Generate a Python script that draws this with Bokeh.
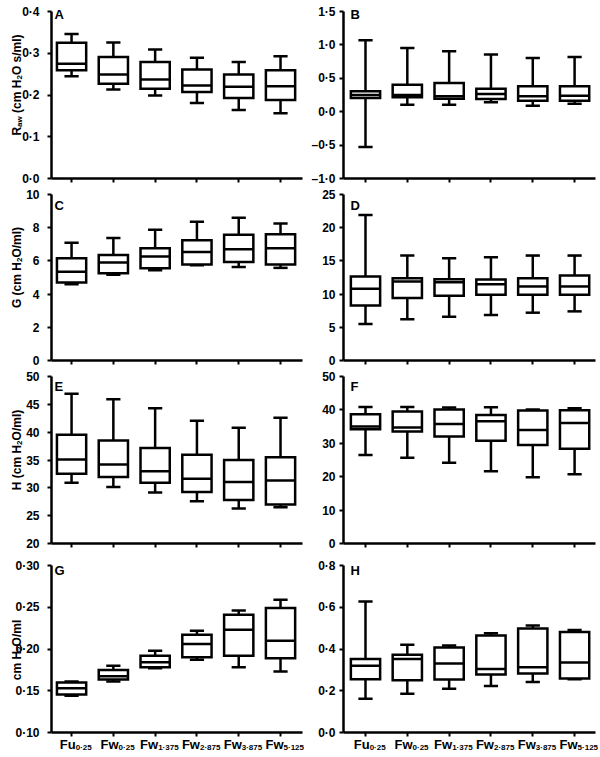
from bokeh.plotting import figure
from bokeh.models import Range1d, FixedTicker, Label
from bokeh.layouts import column, row
from bokeh.embed import file_html
from bokeh.resources import INLINE

# ---------------- data ----------------
groups = [1, 2, 3, 4, 5, 6]
x_main = ["Fu", "Fw", "Fw", "Fw", "Fw", "Fw"]
x_sub = ["0·25", "0·25", "1·375", "2·875", "3·875", "5·125"]

A_max = [0.346, 0.326, 0.309, 0.289, 0.279, 0.293]
A_q3 = [0.325, 0.291, 0.279, 0.261, 0.249, 0.259]
A_med = [0.275, 0.249, 0.237, 0.223, 0.220, 0.221]
A_q1 = [0.259, 0.227, 0.215, 0.207, 0.193, 0.188]
A_min = [0.245, 0.213, 0.199, 0.181, 0.164, 0.156]
A_ticks = [0.0, 0.1, 0.2, 0.3, 0.4]
A_labels = ["0·0", "0·1", "0·2", "0·3", "0·4"]

B_max = [1.07, 0.955, 0.905, 0.855, 0.805, 0.82]
B_q3 = [0.305, 0.405, 0.43, 0.345, 0.38, 0.38]
B_med = [0.25, 0.25, 0.23, 0.265, 0.23, 0.24]
B_q1 = [0.205, 0.215, 0.195, 0.19, 0.165, 0.165]
B_min = [-0.53, 0.105, 0.105, 0.14, 0.09, 0.12]
B_ticks = [-1.0, -0.5, 0.0, 0.5, 1.0, 1.5]
B_labels = ["–1·0", "–0·5", "0·0", "0·5", "1·0", "1·5"]

C_max = [7.1, 7.38, 7.88, 8.36, 8.6, 8.26]
C_q3 = [6.16, 6.36, 6.76, 7.24, 7.58, 7.6]
C_med = [5.34, 5.9, 6.26, 6.54, 6.7, 6.76]
C_q1 = [4.7, 5.26, 5.56, 5.78, 5.94, 5.78]
C_min = [4.6, 5.16, 5.44, 5.74, 5.64, 5.58]
C_ticks = [0, 2, 4, 6, 8, 10]
C_labels = ["0", "2", "4", "6", "8", "10"]

D_max = [21.9, 15.8, 15.4, 15.55, 15.8, 15.8]
D_q3 = [12.65, 12.4, 12.25, 12.2, 12.4, 12.8]
D_med = [10.8, 11.9, 11.8, 11.5, 11.15, 11.15]
D_q1 = [8.3, 9.4, 9.75, 9.9, 9.9, 9.9]
D_min = [5.5, 6.2, 6.6, 6.85, 7.2, 7.4]
D_ticks = [0, 5, 10, 15, 20, 25]
D_labels = ["0", "5", "10", "15", "20", "25"]

E_max = [46.9, 45.9, 44.3, 42.05, 40.8, 42.6]
E_q3 = [39.55, 38.5, 37.15, 35.95, 35.0, 35.5]
E_med = [35.1, 34.2, 33.0, 31.65, 31.05, 31.3]
E_q1 = [32.55, 31.95, 30.9, 29.25, 27.8, 27.0]
E_min = [30.9, 30.15, 29.15, 27.6, 26.3, 26.5]
E_ticks = [20, 25, 30, 35, 40, 45, 50]
E_labels = ["20", "25", "30", "35", "40", "45", "50"]

F_max = [40.9, 40.9, 40.7, 40.8, 40.1, 40.5]
F_q3 = [38.7, 39.5, 40.1, 38.5, 39.8, 39.9]
F_med = [35.0, 34.7, 35.8, 36.6, 34.0, 36.1]
F_q1 = [34.2, 33.5, 32.0, 30.8, 29.5, 28.4]
F_min = [26.5, 25.7, 24.2, 21.6, 19.8, 20.7]
F_ticks = [0, 10, 20, 30, 40, 50]
F_labels = ["0", "10", "20", "30", "40", "50"]

G_max = [0.161, 0.180, 0.198, 0.222, 0.246, 0.259]
G_q3 = [0.160, 0.175, 0.192, 0.217, 0.241, 0.249]
G_med = [0.153, 0.1675, 0.184, 0.206, 0.223, 0.210]
G_q1 = [0.1455, 0.1635, 0.178, 0.190, 0.192, 0.189]
G_min = [0.144, 0.161, 0.177, 0.187, 0.178, 0.173]
G_ticks = [0.10, 0.15, 0.20, 0.25, 0.30]
G_labels = ["0·10", "0·15", "0·20", "0·25", "0·30"]

H_max = [0.627, 0.42, 0.417, 0.475, 0.512, 0.491]
H_q3 = [0.352, 0.372, 0.407, 0.465, 0.498, 0.482]
H_med = [0.32, 0.352, 0.331, 0.304, 0.312, 0.335]
H_q1 = [0.255, 0.25, 0.254, 0.278, 0.283, 0.259]
H_min = [0.162, 0.186, 0.21, 0.223, 0.242, 0.255]
H_ticks = [0.0, 0.2, 0.4, 0.6, 0.8]
H_labels = ["0·0", "0·2", "0·4", "0·6", "0·8"]

# ---------------- styling / layout ----------------
FONT = "Liberation Sans"
LW = 2.5
BOX_HALF = 0.35
CAP_HALF = 0.17

# Arial/Liberation Sans Bold advance widths (1/1000 em)
WID = {' ': 278, '(': 333, ')': 333, '/': 278, '·': 278, 'R': 722, 'a': 556, 'w': 778,
       'c': 556, 'm': 889, 'H': 722, 'O': 778, 's': 556, 'l': 278, 'G': 778, 'F': 611,
       'u': 611}


def tw(s, size):
    return sum(WID.get(ch, 556) for ch in s) / 1000.0 * size


def add_text(p, x, y, text, size, dx, dy, angle=0.0, align="left"):
    p.add_layout(Label(x=x, y=y, x_units="data", y_units="data", text=text,
                       x_offset=dx, y_offset=dy, angle=angle, text_align=align,
                       text_baseline="alphabetic", text_font=FONT,
                       text_font_style="bold", text_font_size=f"{size}px",
                       text_color="black"))


# the page has no margin (Bokeh template): figures start at the window's corner
ROW_H = [186, 182, 185, 203]
TOP_B = [11, 8, 8, 12]
BOT_B = [8, 8, 10, 24]
LETTER_DY = [3, 11, 9.5, 5]


def panel(col, rix, letter, ticks, labels, yr, mx, q3, med, q1, mn, ylabel=None, ycenter_shift=0.0,
          bottom=False):
    if col == 0:
        W, bl, br, xr, standoff, ldx = 304, 51, 2, (0.52, 6.526), 8, 3
    else:
        W, bl, br, xr, standoff, ldx = 294, 39, 3, (0.474, 6.50), 4, 7
    H, bt, bb = ROW_H[rix], TOP_B[rix], BOT_B[rix]
    fw = W - bl - br
    fh = H - bt - bb
    sx = fw / (xr[1] - xr[0])
    sy = fh / (yr[1] - yr[0])
    X = Range1d(xr[0] - bl / sx, xr[1] + br / sx)
    Y = Range1d(yr[0] - bb / sy, yr[1] + bt / sy)
    p = figure(width=W, height=H, x_range=X, y_range=Y,
               output_backend="svg", toolbar_location=None,
               min_border_left=0, min_border_right=0,
               min_border_top=0, min_border_bottom=0)
    p.outline_line_color = None
    p.xgrid.visible = False
    p.ygrid.visible = False
    p.background_fill_color = "white"
    p.border_fill_color = "white"
    for ax in (p.xaxis[0], p.yaxis[0]):
        ax.axis_line_width = LW
        ax.axis_line_color = "black"
        ax.major_tick_line_width = 2
        ax.major_tick_line_color = "black"
        ax.major_tick_out = 4
        ax.major_tick_in = 0
        ax.minor_tick_out = 0
        ax.minor_tick_in = 0
    p.xaxis.fixed_location = yr[0]
    p.yaxis.fixed_location = xr[0]
    p.xaxis.bounds = xr
    p.yaxis.bounds = yr
    p.xaxis.ticker = FixedTicker(ticks=groups)
    p.xaxis.major_label_text_color = None
    p.xaxis.major_label_standoff = 0
    p.yaxis.ticker = FixedTicker(ticks=ticks)
    p.yaxis.major_label_overrides = {t: l for t, l in zip(ticks, labels)}
    p.yaxis.major_label_text_font = FONT
    p.yaxis.major_label_text_font_style = "bold"
    p.yaxis.major_label_text_font_size = "12px"
    p.yaxis.major_label_text_color = "black"
    p.yaxis.major_label_standoff = standoff

    xs = groups
    # whiskers
    p.segment(x0=xs, y0=q3, x1=xs, y1=mx, line_color="black", line_width=LW)
    p.segment(x0=xs, y0=q1, x1=xs, y1=mn, line_color="black", line_width=LW)
    # caps
    p.segment(x0=[x - CAP_HALF for x in xs], y0=mx, x1=[x + CAP_HALF for x in xs], y1=mx,
              line_color="black", line_width=LW)
    p.segment(x0=[x - CAP_HALF for x in xs], y0=mn, x1=[x + CAP_HALF for x in xs], y1=mn,
              line_color="black", line_width=LW)
    # boxes
    p.quad(left=[x - BOX_HALF for x in xs], right=[x + BOX_HALF for x in xs], top=q3, bottom=q1,
           fill_color="white", line_color="black", line_width=LW, line_join="miter")
    # medians
    p.segment(x0=[x - BOX_HALF for x in xs], y0=med, x1=[x + BOX_HALF for x in xs], y1=med,
              line_color="black", line_width=LW)

    # panel letter
    add_text(p, xr[0], yr[1], letter, 13, ldx, -LETTER_DY[rix])

    # y label (rotated, composed of pieces with subscripts)
    if ylabel:
        total = sum(tw(t, s) for t, s, _ in ylabel)
        ymid = (yr[0] + yr[1]) / 2.0
        cur = ycenter_shift - total / 2.0
        for t, s, shift in ylabel:
            body = t.lstrip()
            lead = tw(t[:len(t) - len(body)], s)
            add_text(p, xr[0], ymid, body, s, -35 + shift, cur + lead, angle=1.5707963267948966)
            cur += tw(t, s)

    if bottom:
        for x, m, sb in zip(groups, x_main, x_sub):
            wm = tw(m, 13)
            ws = tw(sb, 8)
            start = 4 - (wm + ws) / 2.0
            add_text(p, x, yr[0], m, 13, start, -12)
            add_text(p, x, yr[0], sb, 8, start + wm, -15)
    return p


lab_A = [("R", 12, 0), ("aw", 8, 2.5), (" (cm H", 12, 0), ("2", 8, 2.5), ("O s/ml)", 12, 0)]
lab_C = [("G (cm H", 12, 0), ("2", 8, 2.5), ("O/ml)", 12, 0)]
lab_E = [("H (cm H", 12, 0), ("2", 8, 2.5), ("O/ml)", 12, 0)]
lab_G = [("cm H", 12, 0), ("2", 8, 2.5), ("O/ml", 12, 0)]

pA = panel(0, 0, "A", A_ticks, A_labels, (0.0, 0.4), A_max, A_q3, A_med, A_q1, A_min, lab_A, 10)
pB = panel(1, 0, "B", B_ticks, B_labels, (-1.0, 1.5), B_max, B_q3, B_med, B_q1, B_min)
pC = panel(0, 1, "C", C_ticks, C_labels, (0, 10), C_max, C_q3, C_med, C_q1, C_min, lab_C, 10)
pD = panel(1, 1, "D", D_ticks, D_labels, (0, 25), D_max, D_q3, D_med, D_q1, D_min)
pE = panel(0, 2, "E", E_ticks, E_labels, (20, 50), E_max, E_q3, E_med, E_q1, E_min, lab_E, 10)
pF = panel(1, 2, "F", F_ticks, F_labels, (0, 50), F_max, F_q3, F_med, F_q1, F_min)
pG = panel(0, 3, "G", G_ticks, G_labels, (0.10, 0.30), G_max, G_q3, G_med, G_q1, G_min, lab_G, -1,
           bottom=True)
pH = panel(1, 3, "H", H_ticks, H_labels, (0.0, 0.8), H_max, H_q3, H_med, H_q1, H_min, bottom=True)

layout = column(row(pA, pB), row(pC, pD), row(pE, pF), row(pG, pH))

open("out.html", "w").write(file_html(layout, INLINE))
